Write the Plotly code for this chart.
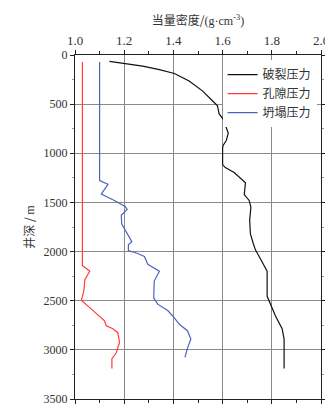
import plotly.graph_objects as go

# 破裂压力 (fracture pressure)
frac_depth = [64, 87, 114, 148, 188, 265, 365, 483, 516, 600, 664, 720, 795, 870, 920, 945, 1115, 1145, 1195,
              1300, 1420, 1480, 1550, 1680, 1820, 1920, 1980, 2070, 2200, 2455, 2505, 2655, 2785, 2890, 3025,
              3190]
frac_val = [1.14, 1.2, 1.275, 1.343, 1.404, 1.464, 1.518, 1.566, 1.579, 1.586, 1.606, 1.612, 1.623, 1.615,
            1.602, 1.6, 1.6, 1.611, 1.647, 1.693, 1.688, 1.708, 1.715, 1.71, 1.713, 1.725, 1.733, 1.753, 1.781,
            1.781, 1.789, 1.815, 1.842, 1.85, 1.85, 1.85]

# 孔隙压力 (pore pressure)
pore_depth = [70, 2142, 2200, 2285, 2400, 2495, 2555, 2640, 2705, 2755, 2785, 2825, 2925, 3035, 3090, 3190]
pore_val = [1.03, 1.03, 1.06, 1.04, 1.036, 1.026, 1.053, 1.093, 1.12, 1.127, 1.154, 1.174, 1.181, 1.167,
            1.15, 1.15]

# 坍塌压力 (collapse pressure)
coll_depth = [70, 1277, 1315, 1415, 1480, 1540, 1570, 1630, 1720, 1780, 1820, 1860, 1900, 1930, 1990, 2020,
              2050, 2130, 2200, 2300, 2470, 2535, 2600, 2675, 2740, 2805, 2890, 2985, 3075]
coll_val = [1.1, 1.1, 1.134, 1.107, 1.16, 1.204, 1.212, 1.188, 1.19, 1.204, 1.212, 1.22, 1.231, 1.217,
            1.217, 1.255, 1.282, 1.296, 1.343, 1.322, 1.32, 1.336, 1.377, 1.404, 1.424, 1.457, 1.471, 1.457,
            1.447]

names = ["破裂压力", "孔隙压力", "坍塌压力"]
colors = ["#111111", "#ff3b3b", "#4a63c0"]

fig = go.Figure()
for name, xs, ys, c in zip(names, [frac_val, pore_val, coll_val], [frac_depth, pore_depth, coll_depth], colors):
    fig.add_trace(go.Scatter(x=xs, y=ys, mode="lines", name=name, line=dict(color=c, width=1.2)))

serif = "Liberation Serif, Times New Roman, serif"
cjk = "Noto Sans CJK SC"

fig.update_layout(
    width=333, height=410,
    margin=dict(l=67, r=19, t=46, b=16),
    plot_bgcolor="white", paper_bgcolor="white",
    font=dict(family=serif, size=12, color="#333"),
    legend=dict(x=0.6, y=0.985, xanchor="left", yanchor="top", bgcolor="white",
                font=dict(family=cjk, size=12, color="#333"), tracegroupgap=0, itemwidth=30),
    xaxis=dict(side="top", range=[1.0, 2.0], dtick=0.2, tickformat=".1f", showgrid=True,
               gridcolor="#8a8a8a", gridwidth=1, showline=True, linecolor="#222", linewidth=1,
               mirror="ticks", ticks="outside", ticklen=4, tickcolor="#222",
               tickfont=dict(family=serif, size=13, color="#333"),
               minor=dict(dtick=0.1, ticks="outside", ticklen=3, tickcolor="#222", showgrid=False),
               title=dict(text="当量密度/<span style='font-family:Liberation Serif'>(g·cm<sup>-3</sup>)</span>",
                          font=dict(family=cjk, size=12, color="#333"), standoff=4),
               zeroline=False),
    yaxis=dict(range=[3500, 0], dtick=500, showgrid=True, gridcolor="#8a8a8a", gridwidth=1,
               showline=True, linecolor="#222", linewidth=1, mirror="ticks", ticks="outside",
               ticklen=4, tickcolor="#222",
               tickfont=dict(family=serif, size=12, color="#333"),
               minor=dict(dtick=250, ticks="outside", ticklen=2, tickcolor="#999", showgrid=False),
               title=dict(text="井深 / <span style='font-family:Liberation Serif'>m</span>",
                          font=dict(family=cjk, size=12, color="#333"), standoff=6),
               zeroline=False),
)

fig.write_html("out.html")
